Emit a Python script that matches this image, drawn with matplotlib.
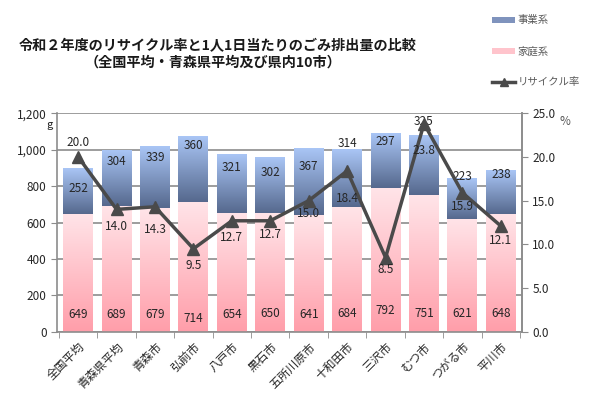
import numpy as np
import matplotlib

matplotlib.use("Agg")
import matplotlib.pyplot as plt
from matplotlib.colors import LinearSegmentedColormap
from matplotlib.patches import Patch
from matplotlib.lines import Line2D

plt.rcParams["font.family"] = ["Noto Sans CJK JP", "DejaVu Sans"]

CITIES = ["全国平均", "青森県平均", "青森市", "弘前市", "八戸市", "黒石市",
          "五所川原市", "十和田市", "三沢市", "むつ市", "つがる市", "平川市"]
HOUSEHOLD = [649, 689, 679, 714, 654, 650, 641, 684, 792, 751, 621, 648]
BUSINESS = [252, 304, 339, 360, 321, 302, 367, 314, 297, 325, 223, 238]
RECYCLE = [20.0, 14.0, 14.3, 9.5, 12.7, 12.7, 15.0, 18.4, 8.5, 23.8, 15.9, 12.1]

# label nudges (as placed in the original chart)
BUS_LABEL_DY = [-114, -60, -61, -53, -75, -79, -98, 36, -46, 76, 11, -21]
HH_LABEL_Y = [93, 93, 93, 75, 94, 102, 93, 102, 117, 102, 102, 102]
RATE_LABEL_DY = [1.7, -2.0, -2.6, -1.9, -1.9, -1.6, -1.5, -3.1, -1.4, -3.1, -1.6, -1.6]

pink = LinearSegmentedColormap.from_list("pink", ["#ff9eaa", "#ffe4e8"])
blue = LinearSegmentedColormap.from_list("blue", ["#56698e", "#a9c5f5"])
grad = np.linspace(0, 1, 64).reshape(-1, 1)

fig = plt.figure(figsize=(6.0, 3.97), dpi=100)
ax = fig.add_axes([0.095, 0.164, 0.775, 0.551])
x = np.arange(len(CITIES))
w = 0.78
txt = "#262626"

for i, (h, b) in enumerate(zip(HOUSEHOLD, BUSINESS)):
    ax.imshow(grad, cmap=pink, origin="lower", aspect="auto",
              extent=(i - w / 2, i + w / 2, 0, h), zorder=2)
    ax.imshow(grad, cmap=blue, origin="lower", aspect="auto",
              extent=(i - w / 2, i + w / 2, h, h + b), zorder=2)
    ax.text(i, HH_LABEL_Y[i], f"{h}", ha="center", va="center", fontsize=8.5,
            color=txt, zorder=4)
    ax.text(i, h + b + BUS_LABEL_DY[i], f"{b}", ha="center", va="center",
            fontsize=8.5, color=txt, zorder=4)

ax.set_xlim(-0.55, len(CITIES) - 0.45)
ax.set_ylim(0, 1200)
ax.set_yticks(range(0, 1201, 200))
ax.set_yticklabels([f"{v:,}" for v in range(0, 1201, 200)], fontsize=8.5, color=txt)
ax.yaxis.grid(True, color="#8c8c8c", lw=1.2, zorder=1)
ax.set_axisbelow(True)
ax.set_xticks(x)
ax.set_xticklabels(CITIES, rotation=45, ha="right", rotation_mode="anchor",
                   fontsize=8.5, color=txt)
ax.set_xticks(np.arange(-0.5, len(CITIES), 1), minor=True)
ax.tick_params(axis="x", which="major", length=0, pad=6)
ax.tick_params(axis="x", which="minor", length=4, color="#8c8c8c", direction="out")
ax.tick_params(axis="y", length=4, color="#8c8c8c")
ax.spines["top"].set_visible(False)
for s in ("left", "bottom", "right"):
    ax.spines[s].set_color("#8c8c8c")
    ax.spines[s].set_linewidth(1.2)
fig.text(0.078, 0.684, "g", fontsize=8, color=txt, ha="left", va="center")

ax2 = ax.twinx()
ax2.plot(x, RECYCLE, color="#4a4a4a", lw=2.5, marker="^", ms=8, zorder=5)
ax2.set_ylim(0, 25)
ax2.set_yticks(np.arange(0, 25.1, 5))
ax2.set_yticklabels([f"{v:.1f}" for v in np.arange(0, 25.1, 5)], fontsize=8.5, color=txt)
ax2.tick_params(axis="y", length=4, color="#8c8c8c")
for s in ("top", "left", "bottom"):
    ax2.spines[s].set_visible(False)
ax2.spines["right"].set_color("#8c8c8c")
ax2.spines["right"].set_linewidth(1.2)
for i, r in enumerate(RECYCLE):
    ax2.text(i, r + RATE_LABEL_DY[i], f"{r:.1f}", ha="center", va="center",
             fontsize=8.5, color=txt, zorder=6)
fig.text(0.942, 0.695, "%", fontsize=8.5, color="#595959", ha="center", va="center")

fig.text(0.362, 0.885, "令和２年度のリサイクル率と1人1日当たりのごみ排出量の比較",
         ha="center", va="center", fontsize=10.2, fontweight="bold", color="#1a1a1a")
fig.text(0.355, 0.843, "（全国平均・青森県平均及び県内10市）",
         ha="center", va="center", fontsize=10.2, fontweight="bold", color="#1a1a1a")

handles = [Patch(facecolor="#7f93bd", edgecolor="none"),
           Patch(facecolor="#ffc4cc", edgecolor="none"),
           Line2D([], [], color="#4a4a4a", lw=2.5, marker="^", ms=6)]
leg = fig.legend(handles, ["事業系", "家庭系", "リサイクル率"], loc="upper left",
                 bbox_to_anchor=(0.805, 0.985), frameon=False, fontsize=7.5,
                 labelspacing=2.0, handlelength=2.2, handleheight=0.5,
                 handletextpad=0.2, labelcolor="#595959")

fig.savefig("out.png", dpi=100)
